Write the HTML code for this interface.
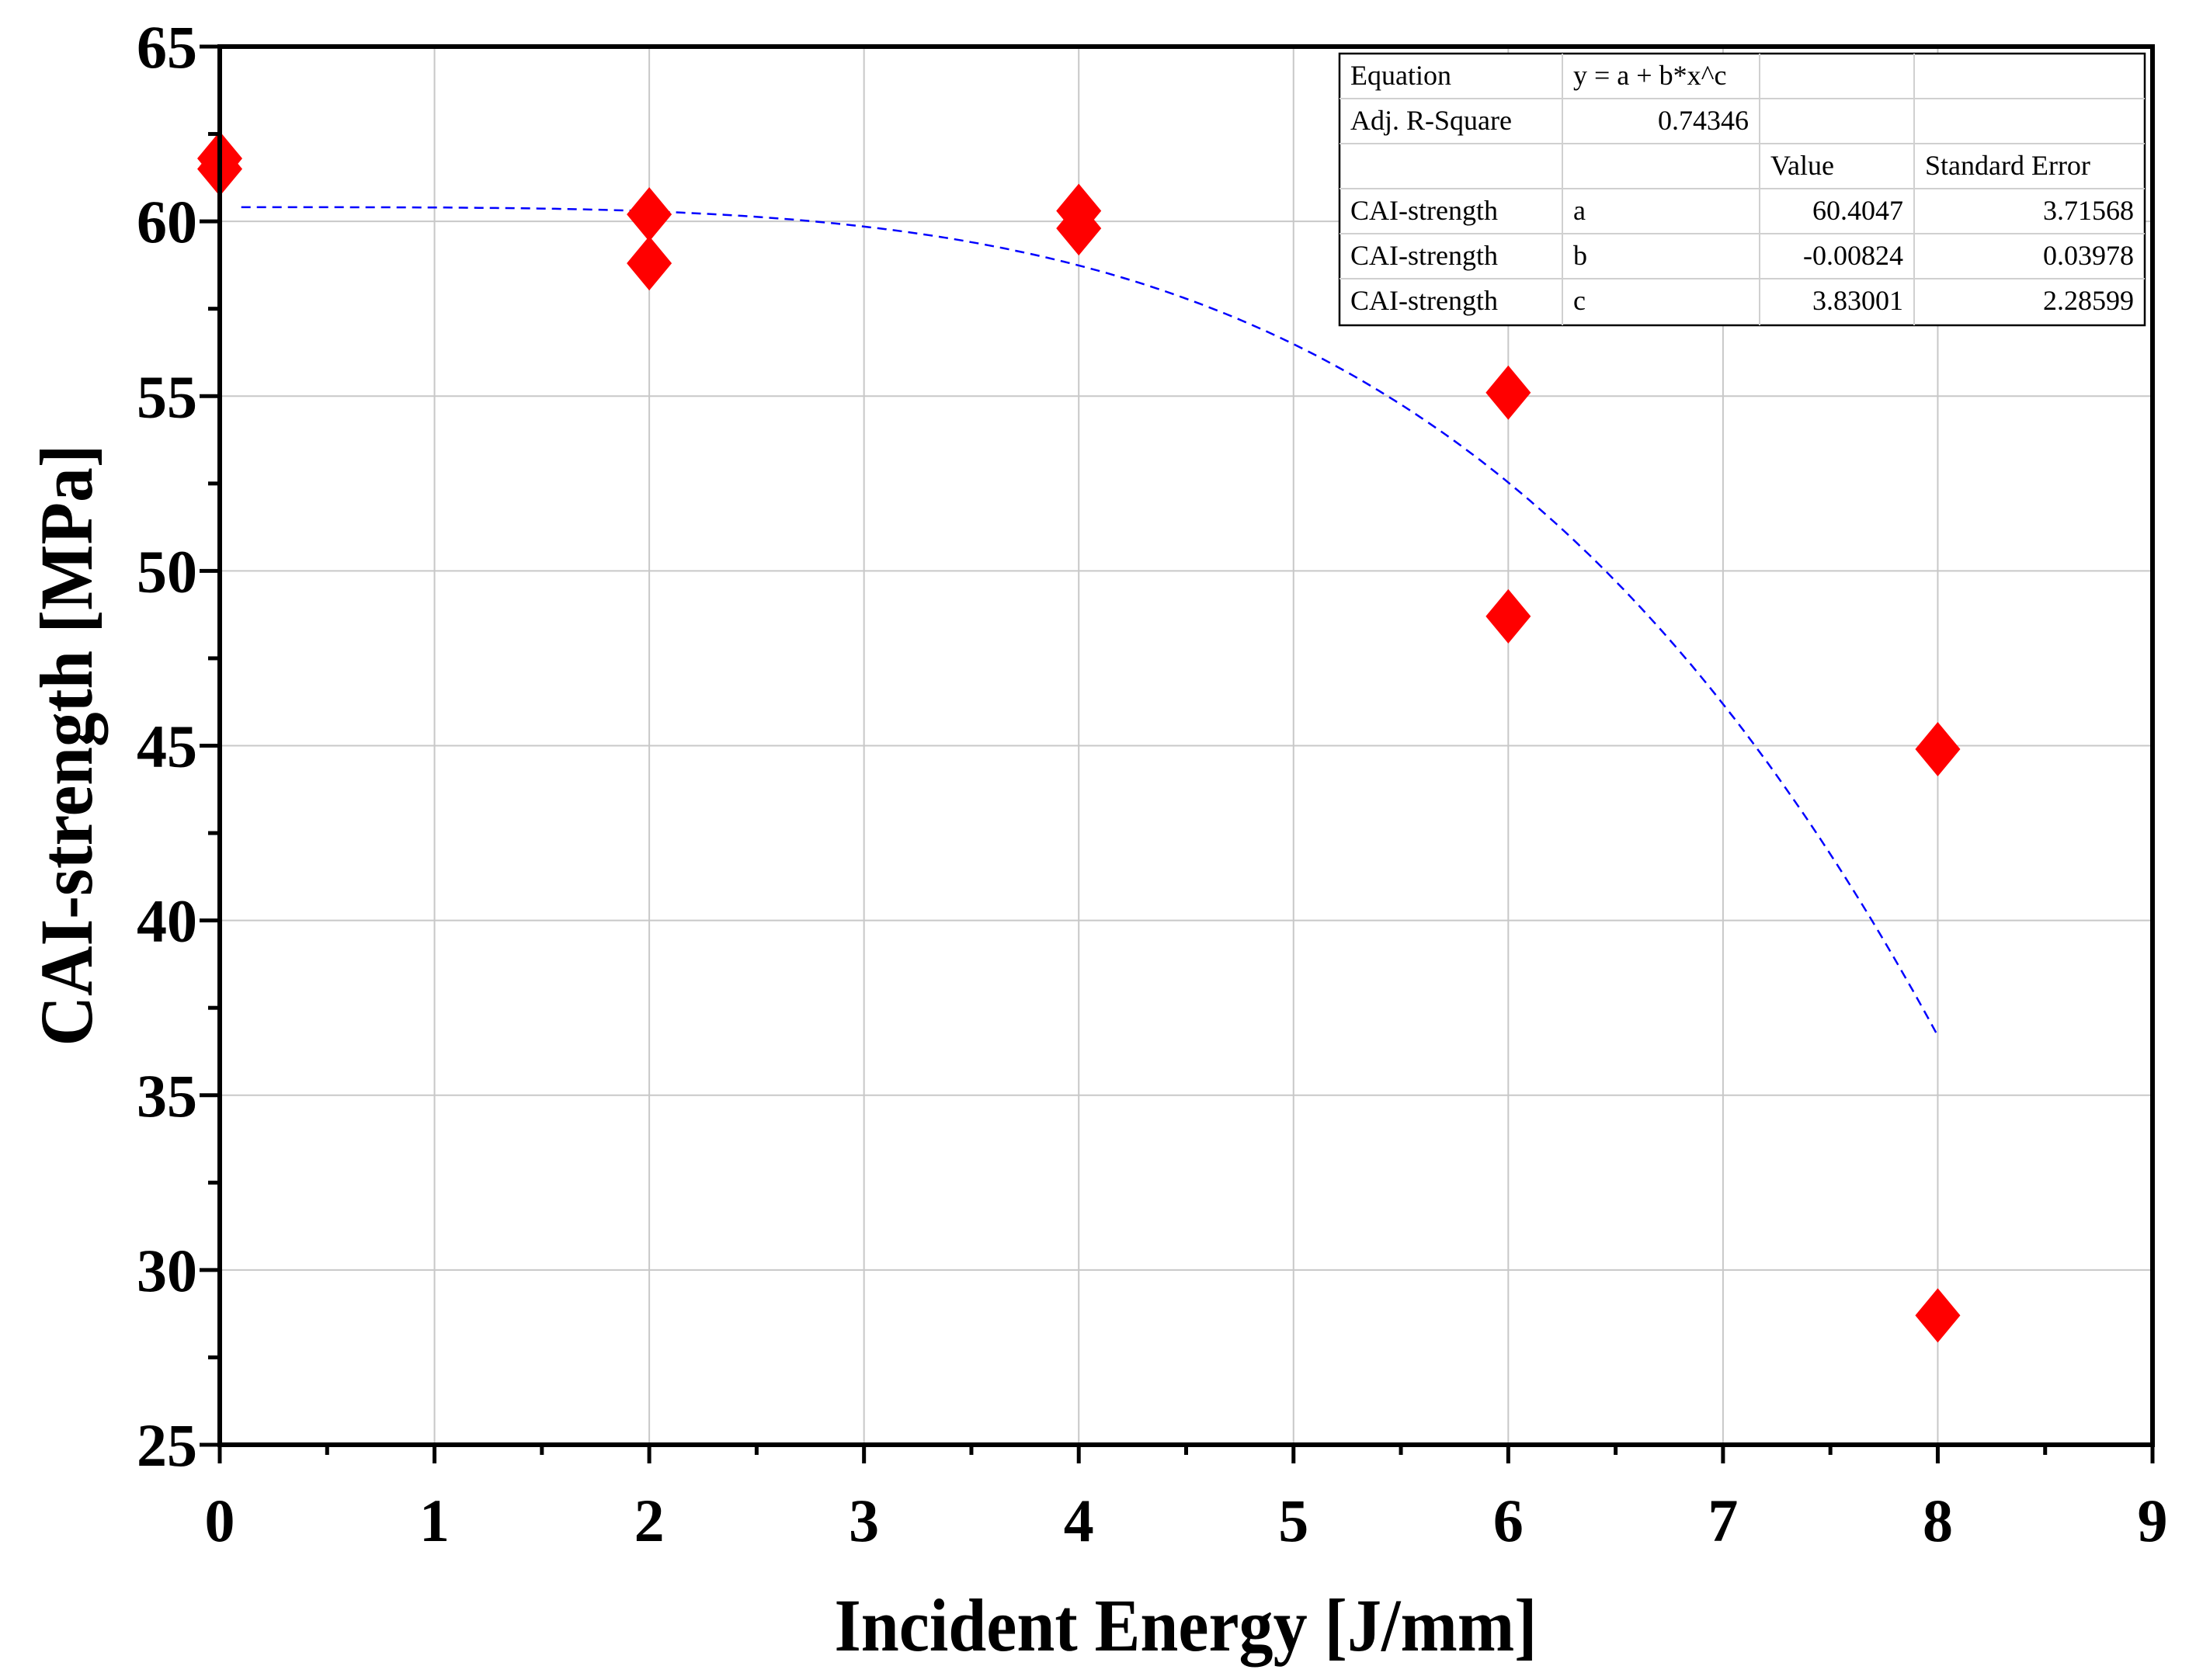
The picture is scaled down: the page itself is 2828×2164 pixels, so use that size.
<!DOCTYPE html>
<html><head><meta charset="utf-8"><style>html,body{margin:0;padding:0;background:#fff}svg{display:block}</style></head>
<body>
<svg id="chart" width="2828" height="2164" xmlns="http://www.w3.org/2000/svg" font-family="'Liberation Serif', serif">
<g id="grid"></g>
<g id="fit"></g>
<g id="pts"></g>
<g id="axes"></g>
<g id="table"></g>
<text x="1527" y="2126" text-anchor="middle" font-size="96" font-weight="bold" textLength="905" lengthAdjust="spacingAndGlyphs">Incident Energy [J/mm]</text>
<text transform="translate(118,960) rotate(-90)" text-anchor="middle" font-size="96" font-weight="bold" textLength="775" lengthAdjust="spacingAndGlyphs">CAI-strength [MPa]</text>
</svg>
<script>
const xTicks = [0,1,2,3,4,5,6,7,8,9];
const yTicks = [25,30,35,40,45,50,55,60,65];
const ptX = [0,0,2,2,4,4,6,6,8,8];
const ptY = [61.8,61.5,60.2,58.8,60.3,59.8,55.1,48.7,44.9,28.7];
const fitA = 60.4047, fitB = -0.00824, fitC = 3.83001;
const fitXMin = 0.1, fitXMax = 8;
const tableRows = [
 ["Equation","y = a + b*x^c","",""],
 ["Adj. R-Square","0.74346","",""],
 ["","","Value","Standard Error"],
 ["CAI-strength","a","60.4047","3.71568"],
 ["CAI-strength","b","-0.00824","0.03978"],
 ["CAI-strength","c","3.83001","2.28599"]
];
const NS="http://www.w3.org/2000/svg";
const X0=283, X1=2772, Y0=1861, Y1=60, xmin=0,xmax=9,ymin=25,ymax=65;
const sx=v=>X0+(v-xmin)/(xmax-xmin)*(X1-X0);
const sy=v=>Y0-(v-ymin)/(ymax-ymin)*(Y0-Y1);
function mk(tag,attrs,parent){const e=document.createElementNS(NS,tag);for(const k in attrs)e.setAttribute(k,attrs[k]);parent.appendChild(e);return e;}
const grid=document.getElementById('grid'),axes=document.getElementById('axes'),pts=document.getElementById('pts'),fit=document.getElementById('fit'),tbl=document.getElementById('table');
xTicks.forEach(t=>{
 if(t>xmin&&t<xmax){const l=mk('line',{x1:sx(t),x2:sx(t),y1:Y1,y2:Y0,stroke:'#c8c8c8','stroke-width':2},grid);
 }
 const tk=mk('line',{x1:sx(t),x2:sx(t),y1:Y0,y2:Y0+24,stroke:'#000','stroke-width':5},axes);
 
 if(t<xmax){const m=mk('line',{x1:sx(t+0.5),x2:sx(t+0.5),y1:Y0,y2:Y0+13,stroke:'#000','stroke-width':5},axes);
 }
 const tx=mk('text',{x:sx(t),y:1985,'text-anchor':'middle','font-size':78,'font-weight':'bold'},axes);
 tx.textContent=t;
});
yTicks.forEach(t=>{
 if(t>ymin&&t<ymax){const l=mk('line',{x1:X0,x2:X1,y1:sy(t),y2:sy(t),stroke:'#c8c8c8','stroke-width':2},grid);
 }
 const tk=mk('line',{x1:X0-26,x2:X0,y1:sy(t),y2:sy(t),stroke:'#000','stroke-width':5},axes);
 
 if(t<ymax){const m=mk('line',{x1:X0-15,x2:X0,y1:sy(t+2.5),y2:sy(t+2.5),stroke:'#000','stroke-width':5},axes);
 }
 const tx=mk('text',{x:254,y:sy(t)+27,'text-anchor':'end','font-size':78,'font-weight':'bold'},axes);
 tx.textContent=t;
});
const frame=mk('rect',{x:X0,y:Y1,width:X1-X0,height:Y0-Y1,fill:'none',stroke:'#000','stroke-width':6},axes);

let d='';for(let i=0;i<=200;i++){const x=fitXMin+(fitXMax-fitXMin)*i/200;const y=fitA+fitB*Math.pow(x,fitC);d+=(i?'L':'M')+sx(x).toFixed(1)+','+sy(y).toFixed(1);}
const fp=mk('path',{d:d,fill:'none',stroke:'#0000ff','stroke-width':2.5,'stroke-dasharray':'12,8'},fit);

ptX.forEach((x,i)=>{const cx=sx(x),cy=sy(ptY[i]),w=29,h=35;
 const p=mk('polygon',{points:`${cx},${cy-h} ${cx+w},${cy} ${cx},${cy+h} ${cx-w},${cy}`,fill:'#ff0000'},pts);
 });
const cols=[1725,2012,2266,2465,2762], rowsY=[69,127,185,243,301,359,419];
const bg=mk('rect',{x:cols[0],y:rowsY[0],width:cols[4]-cols[0],height:rowsY[6]-rowsY[0],fill:'#fff',stroke:'#000','stroke-width':2.5},tbl);

for(let i=1;i<6;i++){const l=mk('line',{x1:cols[0],x2:cols[4],y1:rowsY[i],y2:rowsY[i],stroke:'#d0d0d0','stroke-width':2},tbl);}
for(let j=1;j<4;j++){const l=mk('line',{x1:cols[j],x2:cols[j],y1:rowsY[0],y2:rowsY[6],stroke:'#d0d0d0','stroke-width':2},tbl);}
tableRows.forEach((r,i)=>r.forEach((c,j)=>{if(!c)return;
 const right=(i===1&&j===1)||(i>=3&&j>=2);
 const t=mk('text',{x:right?cols[j+1]-14:cols[j]+14,y:rowsY[i]+40,'text-anchor':right?'end':'start','font-size':36},tbl);
 t.textContent=c;}));
</script>
</body></html>
